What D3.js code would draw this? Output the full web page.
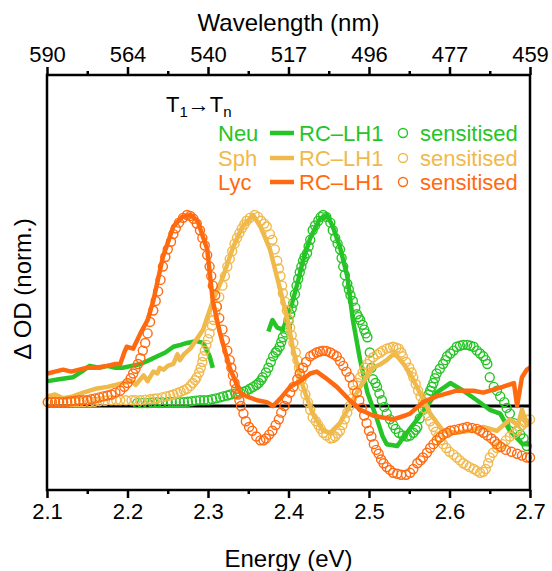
<!DOCTYPE html>
<html><head><meta charset="utf-8">
<script src="https://cdn.jsdelivr.net/npm/d3@7/dist/d3.min.js"></script>
<style>
body{margin:0;background:#fff;}
svg text{font-family:"Liberation Sans",Arial,sans-serif;}
</style></head>
<body><svg id="c" width="552" height="571"></svg>
<script>
// ---------- data ----------
const energyTicks = [2.1, 2.2, 2.3, 2.4, 2.5, 2.6, 2.7];
const energyMinor = [2.15, 2.25, 2.35, 2.45, 2.55, 2.65];
const wavelengthLabels = ["590", "564", "540", "517", "496", "477", "459"];
const seriesNames = ["Neu", "Sph", "Lyc"];

const neuLine1E = [2.101,2.115,2.132,2.143,2.153,2.165,2.175,2.185,2.194,2.205,2.216,2.227,2.237,2.247,2.257,2.266,2.274,2.286,2.294,2.302,2.306];
const neuLine1V = [0.13,0.14,0.15,0.18,0.21,0.20,0.21,0.20,0.20,0.21,0.22,0.24,0.26,0.28,0.31,0.32,0.33,0.34,0.33,0.26,0.20];
const neuLine2E = [2.375,2.380,2.386,2.393,2.402,2.411,2.418,2.427,2.439,2.448,2.455,2.464,2.473,2.480,2.489,2.498,2.510,2.517,2.522,2.535,2.547,2.560,2.572,2.584,2.601,2.617,2.634,2.650,2.663,2.675,2.691,2.700];
const neuLine2V = [0.39,0.45,0.41,0.40,0.50,0.64,0.76,0.88,0.98,1.00,0.94,0.83,0.68,0.45,0.24,0.07,-0.07,-0.16,-0.20,-0.21,-0.14,-0.07,0.00,0.07,0.12,0.08,0.03,-0.02,-0.04,-0.13,-0.20,-0.20];
const neuSensE = [2.212,2.218,2.225,2.231,2.237,2.243,2.250,2.255,2.260,2.265,2.270,2.275,2.280,2.285,2.290,2.295,2.300,2.305,2.310,2.315,2.319,2.324,2.328,2.334,2.340,2.344,2.348,2.352,2.356,2.360,2.363,2.366,2.368,2.372,2.375,2.378,2.381,2.384,2.386,2.389,2.391,2.393,2.396,2.398,2.400,2.402,2.404,2.406,2.408,2.410,2.412,2.414,2.416,2.418,2.420,2.423,2.425,2.427,2.430,2.433,2.437,2.440,2.443,2.447,2.452,2.455,2.458,2.461,2.464,2.466,2.468,2.470,2.473,2.475,2.477,2.480,2.483,2.485,2.487,2.489,2.492,2.494,2.496,2.498,2.501,2.503,2.505,2.508,2.510,2.513,2.516,2.519,2.522,2.526,2.530,2.533,2.537,2.542,2.547,2.551,2.555,2.558,2.560,2.563,2.567,2.570,2.572,2.574,2.576,2.578,2.580,2.582,2.584,2.588,2.592,2.595,2.597,2.601,2.605,2.609,2.613,2.617,2.622,2.626,2.630,2.634,2.638,2.642,2.645,2.647,2.650,2.655,2.659,2.663,2.668,2.671,2.675,2.680,2.684,2.688,2.692,2.696];
const neuSensV = [0.015,0.015,0.015,0.018,0.02,0.02,0.02,0.02,0.02,0.02,0.02,0.022,0.025,0.028,0.03,0.03,0.03,0.035,0.04,0.045,0.05,0.055,0.06,0.065,0.07,0.075,0.08,0.09,0.10,0.11,0.12,0.135,0.15,0.175,0.20,0.23,0.26,0.28,0.29,0.31,0.335,0.36,0.385,0.41,0.445,0.48,0.51,0.54,0.585,0.63,0.665,0.70,0.73,0.76,0.78,0.80,0.835,0.87,0.92,0.945,0.97,0.99,1.00,0.99,0.96,0.92,0.88,0.85,0.82,0.775,0.73,0.685,0.64,0.61,0.58,0.55,0.515,0.48,0.465,0.45,0.425,0.40,0.38,0.36,0.28,0.20,0.14,0.12,0.10,0.065,0.03,-0.005,-0.04,-0.07,-0.10,-0.12,-0.14,-0.155,-0.16,-0.155,-0.14,-0.125,-0.11,-0.065,-0.02,0.01,0.04,0.06,0.08,0.10,0.12,0.145,0.17,0.195,0.22,0.24,0.26,0.275,0.29,0.31,0.315,0.32,0.32,0.315,0.31,0.29,0.275,0.26,0.24,0.22,0.15,0.10,0.08,0.05,0.02,-0.01,-0.04,-0.09,-0.13,-0.15,-0.17,-0.21];

const sphLineE = [2.101,2.110,2.120,2.132,2.145,2.160,2.175,2.185,2.194,2.205,2.210,2.216,2.220,2.225,2.232,2.237,2.240,2.245,2.250,2.257,2.262,2.265,2.270,2.278,2.286,2.294,2.306,2.319,2.331,2.343,2.356,2.365,2.377,2.389,2.398,2.406,2.418,2.430,2.443,2.452,2.464,2.476,2.489,2.505,2.515,2.522,2.530,2.535,2.543,2.551,2.563,2.576,2.592,2.609,2.625,2.642,2.659,2.675,2.685,2.690,2.696,2.700];
const sphLineV = [0.05,0.06,0.04,0.05,0.07,0.09,0.10,0.11,0.12,0.13,0.11,0.14,0.16,0.13,0.18,0.17,0.20,0.19,0.21,0.22,0.27,0.24,0.27,0.30,0.35,0.40,0.55,0.68,0.83,0.94,1.00,0.94,0.82,0.62,0.47,0.29,0.10,-0.04,-0.13,-0.14,-0.09,0.00,0.10,0.20,0.22,0.24,0.27,0.26,0.22,0.17,0.07,-0.04,-0.13,-0.14,-0.13,-0.11,-0.13,-0.07,-0.10,-0.02,-0.10,-0.08];
const sphSensE = [2.101,2.106,2.110,2.115,2.120,2.125,2.130,2.135,2.140,2.146,2.153,2.159,2.165,2.172,2.180,2.186,2.191,2.198,2.205,2.210,2.216,2.222,2.228,2.233,2.237,2.243,2.248,2.253,2.257,2.262,2.266,2.270,2.274,2.278,2.281,2.284,2.286,2.289,2.291,2.293,2.294,2.296,2.298,2.300,2.302,2.305,2.307,2.309,2.311,2.314,2.318,2.321,2.324,2.327,2.330,2.333,2.336,2.339,2.342,2.345,2.348,2.352,2.358,2.362,2.366,2.370,2.373,2.377,2.380,2.383,2.386,2.388,2.390,2.392,2.393,2.396,2.398,2.400,2.402,2.404,2.406,2.409,2.411,2.413,2.414,2.416,2.418,2.421,2.424,2.427,2.430,2.434,2.437,2.440,2.443,2.447,2.452,2.455,2.458,2.461,2.464,2.467,2.470,2.473,2.476,2.479,2.482,2.486,2.489,2.492,2.495,2.498,2.501,2.505,2.510,2.514,2.517,2.522,2.526,2.530,2.534,2.537,2.540,2.542,2.546,2.550,2.553,2.555,2.558,2.561,2.564,2.567,2.570,2.573,2.576,2.580,2.583,2.586,2.589,2.592,2.596,2.600,2.605,2.609,2.613,2.617,2.621,2.625,2.630,2.634,2.638,2.642,2.645,2.648,2.650,2.654,2.659,2.662,2.666,2.670,2.675,2.680,2.684,2.687,2.690,2.693,2.696,2.700];
const sphSensV = [0.02,0.02,0.02,0.02,0.02,0.02,0.02,0.02,0.02,0.02,0.02,0.022,0.025,0.027,0.03,0.03,0.03,0.03,0.03,0.03,0.03,0.033,0.035,0.038,0.04,0.045,0.05,0.055,0.06,0.068,0.075,0.082,0.09,0.105,0.12,0.135,0.15,0.175,0.20,0.23,0.26,0.29,0.32,0.35,0.38,0.42,0.45,0.49,0.52,0.57,0.63,0.68,0.73,0.77,0.81,0.85,0.88,0.905,0.93,0.95,0.97,0.985,1.00,0.99,0.97,0.955,0.94,0.90,0.87,0.82,0.76,0.72,0.68,0.63,0.59,0.545,0.50,0.455,0.41,0.37,0.33,0.28,0.24,0.20,0.17,0.135,0.10,0.06,0.02,-0.02,-0.06,-0.08,-0.10,-0.12,-0.14,-0.155,-0.17,-0.168,-0.16,-0.145,-0.13,-0.10,-0.07,-0.035,0.00,0.04,0.08,0.12,0.15,0.175,0.20,0.22,0.24,0.255,0.27,0.28,0.29,0.30,0.305,0.31,0.305,0.30,0.28,0.26,0.23,0.20,0.175,0.15,0.115,0.08,0.05,0.02,-0.015,-0.05,-0.08,-0.11,-0.135,-0.16,-0.18,-0.20,-0.22,-0.24,-0.255,-0.27,-0.285,-0.30,-0.31,-0.32,-0.33,-0.34,-0.35,-0.345,-0.33,-0.30,-0.27,-0.245,-0.22,-0.21,-0.20,-0.18,-0.16,-0.145,-0.13,-0.115,-0.10,-0.085,-0.07,-0.07];

const lycLineE = [2.101,2.110,2.120,2.130,2.140,2.150,2.160,2.175,2.185,2.191,2.196,2.199,2.207,2.216,2.225,2.232,2.244,2.257,2.268,2.278,2.287,2.299,2.306,2.315,2.327,2.340,2.348,2.361,2.373,2.381,2.390,2.402,2.418,2.427,2.435,2.445,2.460,2.476,2.489,2.505,2.517,2.530,2.545,2.551,2.567,2.584,2.609,2.630,2.642,2.666,2.680,2.684,2.690,2.696,2.700];
const lycLineV = [0.17,0.18,0.19,0.18,0.19,0.20,0.20,0.21,0.22,0.22,0.28,0.31,0.30,0.38,0.45,0.55,0.78,0.94,0.99,1.00,0.97,0.82,0.55,0.38,0.20,0.07,0.05,0.03,0.02,0.00,0.04,0.10,0.14,0.17,0.18,0.15,0.10,0.03,-0.02,-0.05,-0.06,-0.07,-0.05,-0.04,0.02,0.05,0.08,0.08,0.07,0.10,0.12,0.00,0.15,0.19,0.20];
const lycSensE = [2.101,2.106,2.110,2.115,2.120,2.125,2.130,2.135,2.140,2.145,2.150,2.155,2.160,2.165,2.170,2.175,2.180,2.185,2.191,2.196,2.200,2.204,2.207,2.210,2.213,2.216,2.219,2.222,2.225,2.228,2.232,2.235,2.238,2.241,2.244,2.247,2.250,2.254,2.257,2.260,2.264,2.269,2.274,2.278,2.282,2.286,2.290,2.293,2.296,2.299,2.302,2.304,2.306,2.309,2.311,2.314,2.318,2.321,2.324,2.327,2.329,2.331,2.333,2.335,2.337,2.339,2.341,2.344,2.347,2.351,2.355,2.360,2.365,2.369,2.372,2.376,2.380,2.384,2.388,2.391,2.395,2.398,2.402,2.406,2.411,2.414,2.418,2.422,2.427,2.431,2.435,2.439,2.443,2.447,2.452,2.456,2.460,2.464,2.468,2.472,2.476,2.480,2.485,2.488,2.491,2.494,2.497,2.500,2.503,2.506,2.509,2.512,2.515,2.518,2.522,2.526,2.530,2.535,2.540,2.546,2.551,2.555,2.560,2.564,2.567,2.572,2.576,2.580,2.584,2.588,2.592,2.597,2.601,2.606,2.612,2.617,2.622,2.628,2.634,2.638,2.642,2.647,2.652,2.656,2.659,2.664,2.670,2.677,2.684,2.690,2.696,2.700];
const lycSensV = [0.02,0.02,0.02,0.02,0.02,0.022,0.025,0.027,0.03,0.03,0.03,0.035,0.04,0.045,0.05,0.055,0.06,0.07,0.08,0.10,0.12,0.145,0.17,0.195,0.22,0.25,0.29,0.33,0.38,0.44,0.50,0.55,0.60,0.66,0.73,0.78,0.82,0.86,0.90,0.93,0.96,0.985,1.00,0.995,0.98,0.955,0.92,0.88,0.84,0.79,0.73,0.68,0.63,0.58,0.52,0.46,0.40,0.345,0.29,0.24,0.20,0.16,0.12,0.09,0.06,0.03,0.00,-0.04,-0.08,-0.11,-0.13,-0.16,-0.18,-0.18,-0.17,-0.15,-0.13,-0.10,-0.07,-0.035,0.00,0.035,0.07,0.10,0.14,0.17,0.20,0.23,0.26,0.27,0.28,0.285,0.29,0.288,0.28,0.27,0.26,0.235,0.21,0.18,0.15,0.11,0.07,0.03,-0.01,-0.05,-0.09,-0.13,-0.16,-0.20,-0.23,-0.25,-0.28,-0.30,-0.32,-0.335,-0.35,-0.355,-0.36,-0.36,-0.35,-0.33,-0.30,-0.285,-0.27,-0.245,-0.22,-0.20,-0.18,-0.165,-0.15,-0.14,-0.13,-0.125,-0.12,-0.115,-0.11,-0.115,-0.12,-0.13,-0.14,-0.155,-0.17,-0.185,-0.20,-0.215,-0.23,-0.24,-0.25,-0.26,-0.27,-0.27];

// ---------- layout ----------
const colors = {Neu:"#27c427", Sph:"#f0b94c", Lyc:"#ff6a10"};
const L = 47, R = 530, T = 75, B = 490;
const svg = d3.select("#c");
const x = d3.scaleLinear().domain([2.1, 2.7]).range([L, R]);
const y = d3.scaleLinear().domain([-0.44, 1.733]).range([B, T]);
const zip = (E, V) => E.map((e, i) => [e, V[i]]);
const line = d3.line().x(d => x(d[0])).y(d => y(d[1]));

const plot = svg.append("g");
plot.append("line").attr("x1", L).attr("x2", R).attr("y1", y(0)).attr("y2", y(0))
  .attr("stroke", "#000").attr("stroke-width", 3);

const series = [
  {name:"Neu", lines:[zip(neuLine1E, neuLine1V), zip(neuLine2E, neuLine2V)], sens: zip(neuSensE, neuSensV)},
  {name:"Sph", lines:[zip(sphLineE, sphLineV)], sens: zip(sphSensE, sphSensV)},
  {name:"Lyc", lines:[zip(lycLineE, lycLineV)], sens: zip(lycSensE, lycSensV)}
];
series.forEach(s => {
  s.lines.forEach(pts => plot.append("path").attr("d", line(pts)).attr("fill", "none")
    .attr("stroke", colors[s.name]).attr("stroke-width", 4.5).attr("stroke-linejoin", "round"));
  plot.selectAll(null).data(s.sens).enter().append("circle")
    .attr("cx", d => x(d[0])).attr("cy", d => y(d[1])).attr("r", 4.5)
    .attr("fill", "none").attr("stroke", colors[s.name]).attr("stroke-width", 1.4);
});

// frame
svg.append("rect").attr("x", L).attr("y", T).attr("width", R - L).attr("height", B - T)
  .attr("fill", "none").attr("stroke", "#000").attr("stroke-width", 2.5);

// axes
const styleAxis = g => { g.select(".domain").remove(); g.selectAll("line").attr("stroke-width", 2.5);
  g.selectAll("text").attr("font-size", 22).attr("fill", "#000"); };
svg.append("g").attr("transform", `translate(0,${B})`)
  .call(d3.axisBottom(x).tickValues(energyTicks).tickFormat(d3.format(".1f")).tickSize(8).tickPadding(5)).call(styleAxis);
svg.append("g").attr("transform", `translate(0,${B})`)
  .call(d3.axisBottom(x).tickValues(energyMinor).tickFormat("").tickSize(4)).call(styleAxis);
svg.append("g").attr("transform", `translate(0,${T})`)
  .call(d3.axisTop(x).tickValues(energyTicks).tickFormat((d, i) => wavelengthLabels[i]).tickSize(8).tickPadding(5)).call(styleAxis);
svg.append("g").attr("transform", `translate(0,${T})`)
  .call(d3.axisTop(x).tickValues(energyMinor).tickFormat("").tickSize(4)).call(styleAxis);

// titles
svg.append("text").attr("x", (L + R) / 2).attr("y", 31).attr("text-anchor", "middle").attr("font-size", 24).text("Wavelength (nm)");
svg.append("text").attr("x", (L + R) / 2).attr("y", 567).attr("text-anchor", "middle").attr("font-size", 24).text("Energy (eV)");
svg.append("text").attr("transform", "translate(31,289) rotate(-90)").attr("text-anchor", "middle").attr("font-size", 24).text("\u0394 OD (norm.)");

// legend
const lt = svg.append("text").attr("x", 166).attr("y", 112).attr("font-size", 22);
lt.append("tspan").text("T");
lt.append("tspan").attr("font-size", 15).attr("dy", 5).text("1");
lt.append("tspan").attr("dy", -5).text("\u2192T");
lt.append("tspan").attr("font-size", 15).attr("dy", 5).text("n");
const legendY = [141, 166, 190];
seriesNames.forEach((n, i) => {
  const by = legendY[i], c = colors[n];
  svg.append("text").attr("x", 218).attr("y", by).attr("font-size", 22).attr("fill", c).text(n);
  svg.append("line").attr("x1", 270).attr("x2", 294).attr("y1", by - 8).attr("y2", by - 8).attr("stroke", c).attr("stroke-width", 4.5);
  svg.append("text").attr("x", 299).attr("y", by).attr("font-size", 22).attr("fill", c).text("RC\u2013LH1");
  svg.append("circle").attr("cx", 403).attr("cy", by - 8).attr("r", 4.5).attr("fill", "none").attr("stroke", c).attr("stroke-width", 1.4);
  svg.append("text").attr("x", 420).attr("y", by).attr("font-size", 22).attr("fill", c).text("sensitised");
});
</script></body></html>
